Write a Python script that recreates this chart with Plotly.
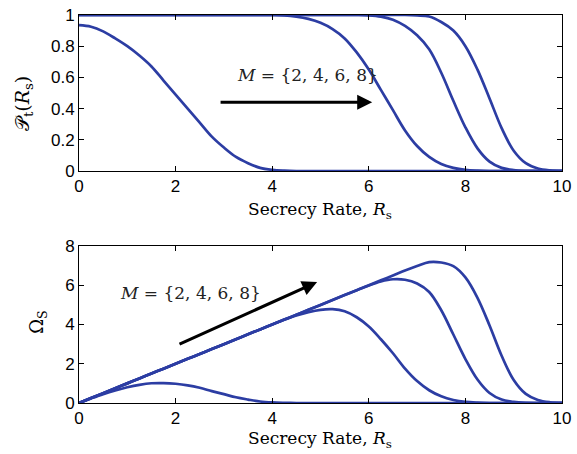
import plotly.graph_objects as go
from plotly.subplots import make_subplots

rate = [0, 0.25, 0.5, 0.75, 1.0, 1.25, 1.5, 1.75, 2.0, 2.25, 2.5, 2.75, 3.0, 3.25, 3.5, 3.75,
        4.0, 4.25, 4.5, 4.75, 5.0, 5.25, 5.5, 5.75, 6.0, 6.25, 6.5, 6.75, 7.0, 7.25, 7.5, 7.75,
        8.0, 8.25, 8.5, 8.75, 9.0, 9.25, 9.5, 9.75, 10.0]

# Top panel: P_t(R_s) for M = 2, 4, 6, 8
p_m2 = [0.935, 0.925, 0.895, 0.85, 0.80, 0.74, 0.67, 0.58, 0.49, 0.40, 0.31, 0.22, 0.15, 0.09, 0.05, 0.02,
        0.007, 0.002, 0, 0, 0, 0, 0, 0, 0, 0, 0, 0, 0, 0, 0, 0,
        0, 0, 0, 0, 0, 0, 0, 0, 0]
p_m4 = [1, 1, 1, 1, 1, 1, 1, 1, 1, 1, 1, 1, 1, 1, 1, 1,
        1.0, 0.998, 0.99, 0.975, 0.95, 0.91, 0.85, 0.76, 0.65, 0.52, 0.39, 0.26, 0.16, 0.09, 0.045, 0.02,
        0.007, 0.002, 0, 0, 0, 0, 0, 0, 0]
p_m6 = [1, 1, 1, 1, 1, 1, 1, 1, 1, 1, 1, 1, 1, 1, 1, 1,
        1, 1, 1, 1, 1, 1, 1, 1, 0.998, 0.99, 0.97, 0.93, 0.87, 0.78, 0.63, 0.45,
        0.28, 0.145, 0.06, 0.02, 0.006, 0.001, 0, 0, 0]
p_m8 = [1, 1, 1, 1, 1, 1, 1, 1, 1, 1, 1, 1, 1, 1, 1, 1,
        1, 1, 1, 1, 1, 1, 1, 1, 1, 1, 1, 1, 0.997, 0.99, 0.955, 0.90,
        0.80, 0.65, 0.465, 0.275, 0.13, 0.05, 0.016, 0.004, 0.001]

# Bottom panel: Omega_S for M = 2, 4, 6, 8
o_m2 = [0, 0.231, 0.448, 0.638, 0.80, 0.925, 1.005, 1.015, 0.98, 0.90, 0.775, 0.605, 0.45, 0.29, 0.175, 0.075,
        0.028, 0.0085, 0, 0, 0, 0, 0, 0, 0, 0, 0, 0, 0, 0, 0, 0,
        0, 0, 0, 0, 0, 0, 0, 0, 0]
o_m4 = [0, 0.25, 0.5, 0.75, 1.0, 1.25, 1.5, 1.75, 2.0, 2.25, 2.5, 2.75, 3.0, 3.25, 3.5, 3.75,
        4.0, 4.24, 4.455, 4.63, 4.75, 4.78, 4.675, 4.37, 3.9, 3.25, 2.535, 1.755, 1.12, 0.65, 0.34, 0.155,
        0.056, 0.0165, 0, 0, 0, 0, 0, 0, 0]
o_m6 = [0, 0.25, 0.5, 0.75, 1.0, 1.25, 1.5, 1.75, 2.0, 2.25, 2.5, 2.75, 3.0, 3.25, 3.5, 3.75,
        4.0, 4.25, 4.5, 4.75, 5.0, 5.25, 5.5, 5.75, 5.99, 6.19, 6.305, 6.28, 6.09, 5.655, 4.725, 3.49,
        2.24, 1.196, 0.51, 0.175, 0.054, 0.009, 0, 0, 0]
o_m8 = [0, 0.25, 0.5, 0.75, 1.0, 1.25, 1.5, 1.75, 2.0, 2.25, 2.5, 2.75, 3.0, 3.25, 3.5, 3.75,
        4.0, 4.25, 4.5, 4.75, 5.0, 5.25, 5.5, 5.75, 6.0, 6.25, 6.5, 6.75, 6.98, 7.18, 7.16, 6.975,
        6.4, 5.36, 3.95, 2.41, 1.17, 0.4625, 0.152, 0.039, 0.01]

x_ticks = [0, 2, 4, 6, 8, 10]
top_ticks = [0, 0.2, 0.4, 0.6, 0.8, 1]
top_tick_text = ["0", "0.2", "0.4", "0.6", "0.8", "1"]
bot_ticks = [0, 2, 4, 6, 8]

LINE = "#2c3da3"
SERIF = "DejaVu Serif, Liberation Serif, serif"
SANS = "Liberation Sans, Arial, sans-serif"

fig = make_subplots(rows=2, cols=1, vertical_spacing=0.19)

for p in (p_m2, p_m4, p_m6, p_m8):
    fig.add_trace(go.Scatter(x=rate, y=p, mode="lines",
                             line=dict(color=LINE, width=2.7, shape="spline", smoothing=1.0),
                             showlegend=False, hoverinfo="skip"), row=1, col=1)
for o in (o_m2, o_m4, o_m6, o_m8):
    fig.add_trace(go.Scatter(x=rate, y=o, mode="lines",
                             line=dict(color=LINE, width=2.7, shape="spline", smoothing=1.0),
                             showlegend=False, hoverinfo="skip"), row=2, col=1)

axis_common = dict(showline=True, linecolor="black", linewidth=1, mirror="ticks", ticks="inside",
                   ticklen=5, tickcolor="black", showgrid=False, zeroline=False, automargin=False,
                   tickfont=dict(family=SANS, size=17, color="black"))

fig.update_xaxes(range=[0, 10], tickvals=x_ticks, **axis_common, row=1, col=1)
fig.update_xaxes(range=[0, 10], tickvals=x_ticks, **axis_common, row=2, col=1)
fig.update_yaxes(range=[0, 1], tickvals=top_ticks, ticktext=top_tick_text, **axis_common, row=1, col=1)
fig.update_yaxes(range=[0, 8], tickvals=bot_ticks, **axis_common, row=2, col=1)

fig.update_layout(
    width=577, height=454,
    margin=dict(l=79, r=15, t=15, b=51),
    paper_bgcolor="white", plot_bgcolor="white",
    yaxis=dict(domain=[0.598, 1.0]),
    yaxis2=dict(domain=[0.0, 0.4046]),
)

title_font = dict(family=SERIF, size=17, color="black")
# Axis titles
fig.add_annotation(x=0.499, y=0.495, xref="paper", yref="paper", text="Secrecy Rate, <i>R</i><sub>s</sub>",
                   showarrow=False, font=title_font, xanchor="center", yanchor="middle")
fig.add_annotation(x=0.499, y=-0.095, xref="paper", yref="paper", text="Secrecy Rate, <i>R</i><sub>s</sub>",
                   showarrow=False, font=title_font, xanchor="center", yanchor="middle")
fig.add_annotation(x=-0.116, y=0.773, xref="paper", yref="paper", text="𝒫<sub>t</sub>(<i>R</i><sub>s</sub>)",
                   showarrow=False, font=dict(family=SERIF, size=19, color="black"), textangle=-90,
                   xanchor="center", yanchor="middle")
fig.add_annotation(x=-0.085, y=0.209, xref="paper", yref="paper", text="Ω<sub>S</sub>",
                   showarrow=False, font=dict(family=SERIF, size=18, color="black"), textangle=-90,
                   xanchor="center", yanchor="middle")

# Annotations: text and arrows
fig.add_annotation(x=4.74, y=0.615, xref="x", yref="y", text="<i>M</i> = {2, 4, 6, 8}", showarrow=False,
                   font=dict(family=SERIF, size=17, color="#222"))
fig.add_annotation(x=6.07, y=0.44, ax=2.9, ay=0.44, xref="x", yref="y", axref="x", ayref="y",
                   text="", showarrow=True, arrowhead=2, arrowsize=1, arrowwidth=3, arrowcolor="black")
fig.add_annotation(x=2.3, y=5.6, xref="x2", yref="y2", text="<i>M</i> = {2, 4, 6, 8}", showarrow=False,
                   font=dict(family=SERIF, size=17, color="#222"))
fig.add_annotation(x=4.93, y=6.17, ax=2.05, ay=2.96, xref="x2", yref="y2", axref="x2", ayref="y2",
                   text="", showarrow=True, arrowhead=2, arrowsize=1, arrowwidth=3, arrowcolor="black")

fig.write_html("out.html", config={"displayModeBar": False},
               post_script="document.body.style.margin='0px';document.body.style.padding='0px';")
